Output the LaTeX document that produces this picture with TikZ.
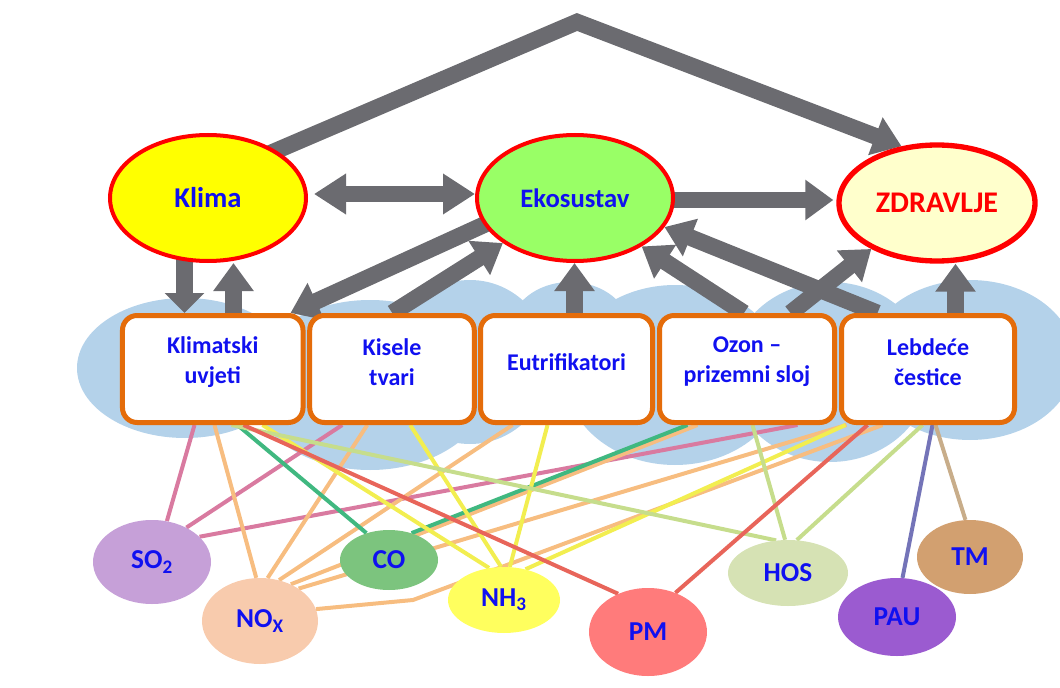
\documentclass[tikz,border=0pt]{standalone}
\usepackage{fontspec}
\setmainfont{Carlito}
\usetikzlibrary{arrows.meta,shapes.geometric,calc}
\pgfdeclarelayer{cloudlayer}
\pgfdeclarelayer{bg}
\pgfsetlayers{cloudlayer,bg,main}
\definecolor{cloudblue}{HTML}{B4D2EA}
\definecolor{agray}{HTML}{6B6B70}
\definecolor{borange}{HTML}{E46C0A}
\definecolor{tblue}{HTML}{1010F0}
\definecolor{kyellow}{HTML}{FFFF00}
\definecolor{egreen}{HTML}{99FF66}
\definecolor{zcream}{HTML}{FFFFCC}
\definecolor{so2f}{HTML}{C6A0D8}
\definecolor{noxf}{HTML}{F8CBAD}
\definecolor{cof}{HTML}{7CC47E}
\definecolor{nh3f}{HTML}{FFFF5E}
\definecolor{pmf}{HTML}{FF7B7B}
\definecolor{hosf}{HTML}{D6E2B4}
\definecolor{pauf}{HTML}{9B5BD0}
\definecolor{tmf}{HTML}{D2A070}
\definecolor{so2c}{HTML}{D97AA0}
\definecolor{noxc}{HTML}{F7BD80}
\definecolor{coc}{HTML}{40B880}
\definecolor{nh3c}{HTML}{F2EE50}
\definecolor{hosc}{HTML}{C6DD8C}
\definecolor{pmc}{HTML}{E8655A}
\definecolor{pauc}{HTML}{7474B8}
\definecolor{tmc}{HTML}{C8AD8A}
\begin{document}
\begin{tikzpicture}[x=0.75pt,y=-0.75pt,
  bigell/.style={ellipse, draw=red, line width=3pt, inner sep=0pt, minimum width=147pt,
    font=\fontsize{21.5}{25}\selectfont\bfseries},
  cbox/.style={rectangle, draw=borange, line width=3.75pt, fill=white, rounded corners=11pt,
    minimum height=80.25pt, inner sep=0pt},
  boxtxt/.style={text=tblue, align=center, font=\fontsize{18}{22.5}\selectfont\bfseries, yshift=5.25pt},
  poll/.style={ellipse, inner sep=0pt, text=tblue, font=\fontsize{20.5}{24}\selectfont\bfseries},
  garrow/.style={draw=agray, line width=12.5pt, -{Triangle[width=29pt,length=21pt]}},
  gdouble/.style={draw=agray, line width=12.5pt, {Triangle[width=29pt,length=24pt]}-{Triangle[width=29pt,length=24pt]}},
  pline/.style={line width=3pt},
]
\useasboundingbox (0,0) rectangle (1060,688);

% main nodes
\node[bigell, fill=kyellow, minimum height=94.5pt, text=tblue] (klima) at (208,198) {Klima};
\node[bigell, fill=egreen, minimum height=94.5pt, text=tblue, font=\fontsize{20}{24}\selectfont\bfseries] (eko) at (575,198) {Ekosustav};
\node[bigell, fill=zcream, minimum height=87pt, line width=4pt, text=red, font=\fontsize{22.5}{26}\selectfont\bfseries] (zdrav) at (937,203) {ZDRAVLJE};

\node[cbox, minimum width=135.4pt, label={[boxtxt]center:Klimatski\\uvjeti}] (b1) at (212.75,369) {};
\node[cbox, minimum width=123.4pt, label={[boxtxt]center:Kisele\\tvari}] (b2) at (392,369) {};
\node[cbox, minimum width=129pt, label={[boxtxt]center:Eutrifikatori}] (b3) at (566.5,369) {};
\node[cbox, minimum width=131.25pt, label={[boxtxt]center:Ozon –\\prizemni sloj}] (b4) at (747,369) {};
\node[cbox, minimum width=129.75pt, label={[boxtxt]center:Lebdeće\\čestice}] (b5) at (928,369) {};

\node[poll, fill=so2f, minimum width=88.5pt, minimum height=63pt] (so2) at (152,562) {SO\textsubscript{2}};
\node[poll, fill=noxf, minimum width=87pt, minimum height=64.5pt] (nox) at (260,621) {NO\textsubscript{X}};
\node[poll, fill=cof, minimum width=73.5pt, minimum height=45pt] (co) at (389,560) {CO};
\node[poll, fill=nh3f, minimum width=84pt, minimum height=49.5pt] (nh3) at (504,600) {NH\textsubscript{3}};
\node[poll, fill=pmf, minimum width=88.5pt, minimum height=66pt] (pm) at (648,632) {PM};
\node[poll, fill=hosf, minimum width=90pt, minimum height=49.5pt] (hos) at (788,573) {HOS};
\node[poll, fill=pauf, minimum width=88.5pt, minimum height=58.5pt] (pau) at (897,617) {PAU};
\node[poll, fill=tmf, minimum width=79.5pt, minimum height=55.5pt] (tm) at (970,557) {TM};

% cloud
\begin{pgfonlayer}{cloudlayer}
\begin{scope}
\clip (0,0) rectangle (1060,688);
\fill[cloudblue] (185,368) ellipse [x radius=108, y radius=70];
\fill[cloudblue] (370,385) ellipse [x radius=120, y radius=85];
\fill[cloudblue] (470,362) ellipse [x radius=80, y radius=82];
\fill[cloudblue] (570,330) ellipse [x radius=60, y radius=48];
\fill[cloudblue] (675,375) ellipse [x radius=110, y radius=90];
\fill[cloudblue] (830,372) ellipse [x radius=100, y radius=90];
\fill[cloudblue] (970,360) ellipse [x radius=105, y radius=80];
\end{scope}
\end{pgfonlayer}

\begin{pgfonlayer}{bg}
% coloured links
\draw[pline, so2c] ($(b1.south west)+(74.5,0)$) -- (so2.70);
\draw[pline, so2c] ($(b2.south west)+(35,0)$) -- (so2.45);
\draw[pline, so2c] ($(b4.south west)+(140.5,0)$) -- (so2.28);
\draw[pline, noxc] ($(b1.south west)+(94.5,0)$) -- (nox.95);
\draw[pline, noxc] ($(b2.south west)+(60,0)$) -- (nox.80);
\draw[pline, noxc] ($(b3.south west)+(34.5,0)$) -- (nox.65);
\draw[pline, noxc] ($(b4.south west)+(40.5,0)$) -- (nox.50);
\draw[pline, noxc] ($(b5.south west)+(7.5,0)$) -- (nox.40);
\coordinate (kink) at (413,600);
\draw[pline, noxc] ($(b5.south west)+(43.5,0)$) -- (kink) -- (nox.12);
\draw[pline, coc] ($(b1.south west)+(117.5,0)$) -- (co.130);
\draw[pline, coc] ($(b4.south west)+(30.5,0)$) -- (co.50);
\draw[pline, nh3c] ($(b1.south west)+(142.5,0)$) -- (nh3.115);
\draw[pline, nh3c] ($(b2.south west)+(103,0)$) -- (nh3.95);
\draw[pline, nh3c] ($(b3.south west)+(69.5,0)$) -- (nh3.80);
\draw[pline, nh3c] ($(b5.south west)+(6.5,0)$) -- (nh3.55);
\draw[pline, hosc] ($(b1.south west)+(111.5,0)$) -- (hos.110);
\draw[pline, hosc] ($(b4.south west)+(95.5,0)$) -- (hos.95);
\draw[pline, hosc] ($(b5.south west)+(83.5,0)$) -- (hos.75);
\draw[pline, pmc] ($(b1.south west)+(123.5,0)$) -- (pm.128);
\draw[pline, pmc] ($(b5.south west)+(28.5,0)$) -- (pm.55);
\draw[pline, pauc] ($(b5.south west)+(93.5,0)$) -- (pau.82);
\draw[pline, tmc] ($(b5.south west)+(96.5,0)$) -- (tm.97);

% grey arrows
\coordinate (apex) at (577,22);
\draw[garrow] ($(klima.center)!0.85!(klima.37)$) -- (apex) -- (zdrav.122);
\draw[gdouble] ($(klima.east)+(6,-4)$) -- ($(eko.west)+(0,-4)$);
\draw[garrow] ($(eko.east)+(-10,2)$) -- ($(zdrav.west)+(-3,-3)$);
\coordinate (a1) at ($(b1.north west)+(64.5,0)$);
\draw[garrow, -{Triangle[width=29pt,length=15pt]}] (klima.center -| a1) -- (a1);
\coordinate (a2) at ($(b1.north west)+(113.5,0)$);
\draw[garrow] (a2) -- (a2 |- klima.south);
\draw[garrow] ($(eko.center)+(-85,24)$) -- ($(b1.north west)+(170.5,0)$);
\draw[garrow] ($(b2.north west)+(85,0)$) -- (eko.212);
\coordinate (a5) at ($(b3.north west)+(96.5,0)$);
\draw[garrow] (a5) -- (a5 |- eko.south);
\draw[garrow] ($(b4.north west)+(87,0)$) -- (eko.-36);
\draw[garrow] ($(b5.north west)+(38.5,0)$) -- (eko.-18);
\draw[garrow] ($(b4.north west)+(133.5,0)$) -- (zdrav.215);
\coordinate (a9) at ($(b5.north west)+(116.5,0)$);
\draw[garrow] (a9) -- (a9 |- zdrav.south);
\end{pgfonlayer}
\end{tikzpicture}
\end{document}
